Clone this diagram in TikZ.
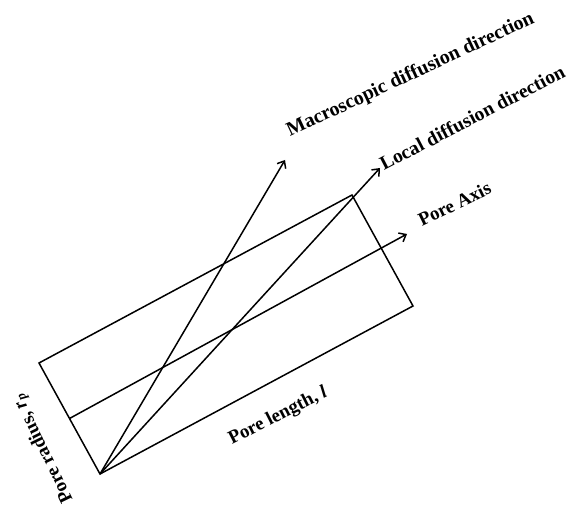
\documentclass[tikz,border=0pt]{standalone}
\usepackage{fontspec}
\setmainfont{Liberation Serif}
\usetikzlibrary{arrows.meta,calc}
\begin{document}
\begin{tikzpicture}[x=1pt,y=1pt,
  edge/.style={line width=1.5pt, line join=miter},
  arr/.style={line width=1.5pt, -{Straight Barb[length=6pt,width=10pt,line width=1.5pt]}},
  lbl/.style={inner sep=0pt, anchor=base west, font=\fontsize{19}{22}\selectfont\bfseries}
]
\useasboundingbox (0,0) rectangle (570,514);
% rectangle corners
\coordinate (A) at (100,40);
\coordinate (B) at (39,151);
\coordinate (C) at (352,319);
\coordinate (D) at (413,208);
\coordinate (M) at ($ (A)!0.5!(B) $);
\draw[edge] (A) -- (B) -- (C) -- (D) -- cycle;
% arrow tips
\coordinate (axisEnd) at (407,280);
\coordinate (localEnd) at (380,346);
\coordinate (macroEnd) at (285,354);
\draw[arr] (M) -- (axisEnd);
\draw[arr] (A) -- (localEnd);
\draw[arr] (A) -- (macroEnd);
% labels
\node[lbl, rotate=25, font=\fontsize{20}{23}\selectfont\bfseries] (macroLbl) at (290,377) {Macroscopic diffusion direction};
\node[lbl, rotate=27.5, font=\fontsize{19.6}{23}\selectfont\bfseries] (localLbl) at (384,343) {Local diffusion direction};
\node[lbl, rotate=26] (axisLbl) at (422,287) {Pore Axis};
\node[lbl, rotate=27] (lenLbl) at (232,69) {Pore length, \textit{l}};
\node[lbl, rotate=116] (radLbl) at (73,14) {Pore radius, \textit{r\textsubscript{p}}};
\end{tikzpicture}
\end{document}
